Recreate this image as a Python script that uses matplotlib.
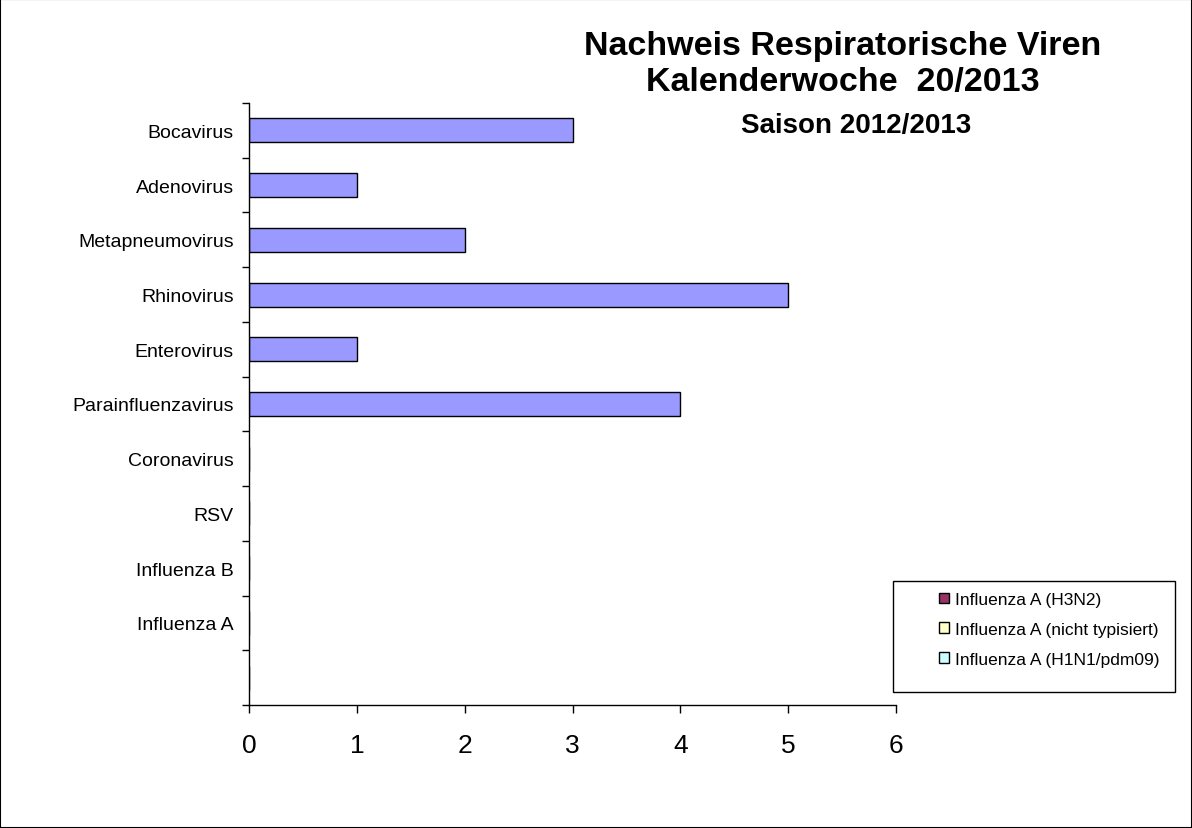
import matplotlib.pyplot as plt
import matplotlib.patches as mpatches
import numpy as np

plt.rcParams['font.family'] = ['Liberation Sans', 'DejaVu Sans']

# categories from bottom to top (bottom slot is empty in the original)
viren = ['', 'Influenza A', 'Influenza B', 'RSV', 'Coronavirus',
         'Parainfluenzavirus', 'Enterovirus', 'Rhinovirus',
         'Metapneumovirus', 'Adenovirus', 'Bocavirus']
nachweise = [0, 0, 0, 0, 0, 4, 1, 5, 2, 1, 3]
flu_h3n2 = [0, 0, 0, 0, 0, 0, 0, 0, 0, 0, 0]
flu_nt = [0, 0, 0, 0, 0, 0, 0, 0, 0, 0, 0]
flu_h1n1 = [0, 0, 0, 0, 0, 0, 0, 0, 0, 0, 0]
legend_labels = ['Influenza A (H3N2)', 'Influenza A (nicht typisiert)',
                 'Influenza A (H1N1/pdm09)']
legend_colors = ['#993366', '#FFFFCC', '#CCFFFF']
xticks = [0, 1, 2, 3, 4, 5, 6]

fig = plt.figure(figsize=(11.92, 8.29), dpi=100)
ax = fig.add_axes([249 / 1192, 1 - 706 / 829, (896 - 249) / 1192, (706 - 104) / 829])

y = np.arange(len(viren))
ax.barh(y, nachweise, height=0.44, color='#9999FF', edgecolor='black', linewidth=1)
left = np.array(nachweise, dtype=float)
for vals, col in zip([flu_h3n2, flu_nt, flu_h1n1], legend_colors):
    ax.barh(y, vals, left=left, height=0.44, color=col, edgecolor='black', linewidth=0)
    left += vals

ax.set_xlim(0, 6)
ax.set_ylim(-0.5, len(viren) - 0.5)
ax.set_xticks(xticks)
ax.set_xticklabels([str(v) for v in xticks], fontsize=19)
ax.set_yticks(y)
ax.set_yticklabels(viren, fontsize=14)
ax.set_yticks(np.arange(-0.5, len(viren)), minor=True)
ax.tick_params(axis='y', which='major', length=0, pad=11)
ax.tick_params(axis='y', which='minor', length=5, direction='out', width=1)
ax.tick_params(axis='x', length=6, direction='out', width=1, pad=14)
for s in ['top', 'right']:
    ax.spines[s].set_visible(False)
for s in ['left', 'bottom']:
    ax.spines[s].set_linewidth(1)

fig.text(843 / 1192, 1 - 47 / 829, 'Nachweis Respiratorische Viren', ha='center', va='center',
         fontsize=24.5, fontweight='bold')
fig.text(843 / 1192, 1 - 83 / 829, 'Kalenderwoche  20/2013', ha='center', va='center',
         fontsize=24.5, fontweight='bold')
fig.text(856 / 1192, 1 - 126 / 829, 'Saison 2012/2013', ha='center', va='center',
         fontsize=20, fontweight='bold')

# legend box
fig.patches.append(mpatches.Rectangle((893 / 1192, 1 - 693 / 829), (1175 - 893) / 1192,
                                      (693 - 582) / 829, transform=fig.transFigure,
                                      fill=False, edgecolor='black', linewidth=1))
handles = [mpatches.Patch(facecolor=c, edgecolor='black', linewidth=1) for c in legend_colors]
fig.legend(handles, legend_labels, loc='upper left', bbox_to_anchor=(939 / 1192, 1 - 593 / 829),
           frameon=False, fontsize=12.5, handlelength=0.55, handleheight=0.55,
           handletextpad=0.35, labelspacing=0.85, borderpad=0, borderaxespad=0)

# outer frame
fig.patches.append(mpatches.Rectangle((0, 0), 1, 1, transform=fig.transFigure,
                                      fill=False, edgecolor='black', linewidth=1.5))

fig.savefig('out.png', dpi=100)
